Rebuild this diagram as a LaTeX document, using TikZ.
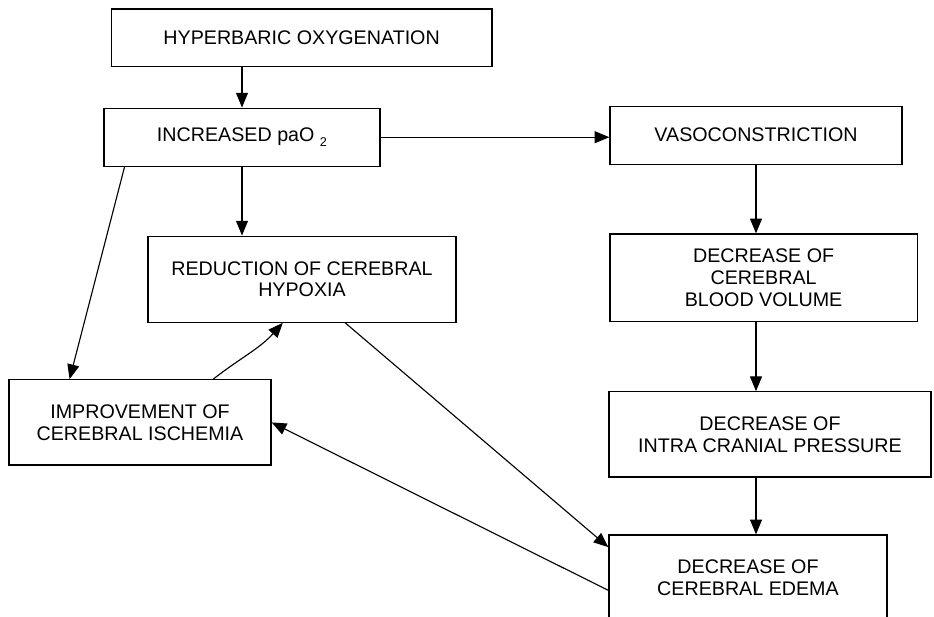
\documentclass[tikz,border=0pt]{standalone}
\usepackage{fontspec}
\setmainfont{Liberation Sans}
\usetikzlibrary{arrows.meta}

\begin{document}
\begin{tikzpicture}[
		box/.style={draw, line width=0.9pt, align=center, inner sep=2pt,
			font=\fontsize{14}{15.5}\selectfont},
		arr/.style={-{Triangle[length=10.5pt,width=8.5pt]}, line width=0.8pt},
	]
		\useasboundingbox (0,0) rectangle (23.35,-15.4);
		\node[box, minimum width=9.52cm, minimum height=1.43cm] (hbo) at (7.54, -0.94) {HYPERBARIC OXYGENATION};
		\node[box, minimum width=6.9cm, minimum height=1.45cm] (incr) at (6.05, -3.43) {INCREASED paO \raisebox{-0.45ex}{\small 2}};
		\node[box, minimum width=7.3cm, minimum height=1.45cm] (vaso) at (18.9, -3.38) {VASOCONSTRICTION};
		\node[box, minimum width=7.7cm, minimum height=2.15cm] (redu) at (7.55, -6.98) {REDUCTION OF CEREBRAL\\HYPOXIA};
		\node[box, minimum width=7.68cm, minimum height=2.18cm] (dcbv) at (19.09, -6.94) {DECREASE OF\\CEREBRAL\\BLOOD VOLUME};
		\node[box, minimum width=6.55cm, minimum height=2.13cm] (impr) at (3.5, -10.56) {IMPROVEMENT OF\\CEREBRAL ISCHEMIA};
		\node[box, minimum width=8.05cm, minimum height=2.13cm] (idp) at (19.25, -10.86) {DECREASE OF\\INTRA CRANIAL PRESSURE};
		\node[box, minimum width=6.95cm, minimum height=2.13cm] (edem) at (18.7, -14.44) {DECREASE OF\\CEREBRAL EDEMA};
		% main chain
		\draw[arr] (hbo.south -| incr.north) -- (incr.north);
		\draw[arr] (incr.east) -- (incr.east -| vaso.west);
		\draw[arr] (incr.south) -- (redu.north -| incr.south);
		\draw[arr] (vaso.south) -- (dcbv.north -| vaso.south);
		\draw[arr] (dcbv.south -| vaso.south) -- (idp.north -| vaso.south);
		\draw[arr] (idp.south -| vaso.south) -- (edem.north -| vaso.south);
		% cross links
		\draw[arr] ([xshift=0.53cm]incr.south west) -- ([xshift=1.53cm]impr.north west);
		\draw[arr] ([xshift=1.83cm]impr.north) to[out=38, in=-132] ([xshift=-0.48cm]redu.south);
		\draw[arr] ([xshift=1.08cm]redu.south) -- ([yshift=-0.32cm]edem.north west);
		\draw[arr] ([yshift=-1.4cm]edem.north west) -- (impr.east);
	\end{tikzpicture}
\end{document}
